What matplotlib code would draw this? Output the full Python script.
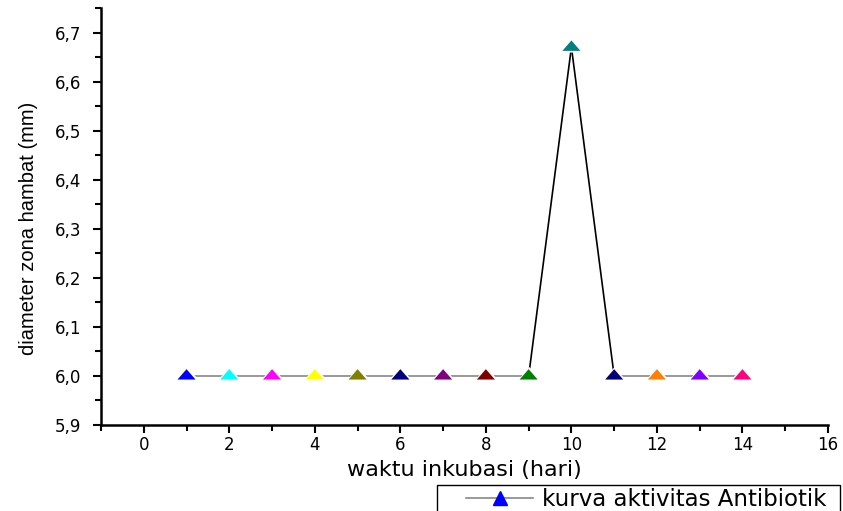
import numpy as np
import matplotlib.pyplot as plt
from matplotlib.lines import Line2D
from matplotlib.patches import Rectangle
from matplotlib.ticker import MultipleLocator

plt.rcParams['font.family'] = ['DejaVu Sans']

hari = [1, 2, 3, 4, 5, 6, 7, 8, 9, 10, 11, 12, 13, 14]
diameter = [6.0, 6.0, 6.0, 6.0, 6.0, 6.0, 6.0, 6.0, 6.0, 6.67, 6.0, 6.0, 6.0, 6.0]
warna = ['#0000ff', '#00ffff', '#ff00ff', '#ffff00', '#808000', '#000080', '#800080',
         '#800000', '#008000', '#008080', '#000080', '#ff8000', '#8000ff', '#ff0080']

# segitiga pipih ala Origin
segitiga = [(-1, -0.4), (1, -0.4), (0, 0.75), (-1, -0.4)]

W, H = 843, 511
fig = plt.figure(figsize=(W / 100, H / 100), dpi=100)
ax = fig.add_axes([101 / W, 86 / H, 727 / W, 417 / H])

# garis datar tampak abu-abu, garis naik-turun hitam
for i in range(len(hari) - 1):
    c = '#888888' if diameter[i] == diameter[i + 1] else 'black'
    ax.plot(hari[i:i + 2], diameter[i:i + 2], color=c, lw=1.2, zorder=1)

ax.scatter(hari, diameter, marker=segitiga, s=330, c='white', zorder=2, linewidths=0)
ax.scatter(hari, diameter, marker=segitiga, s=170, c=warna, zorder=3, linewidths=0)

ax.set_xlim(-1, 16)
ax.set_ylim(5.9, 6.75)
ax.xaxis.set_major_locator(MultipleLocator(2))
ax.xaxis.set_minor_locator(MultipleLocator(1))
ax.yaxis.set_major_locator(MultipleLocator(0.1))
ax.yaxis.set_minor_locator(MultipleLocator(0.05))
ax.yaxis.set_major_formatter(plt.FuncFormatter(lambda v, p: f'{v:.1f}'.replace('.', ',')))
ax.xaxis.set_major_formatter(plt.FuncFormatter(lambda v, p: f'{v:.0f}'))

for s in ['top', 'right']:
    ax.spines[s].set_visible(False)
for s in ['left', 'bottom']:
    ax.spines[s].set_linewidth(1.8)
ax.tick_params(which='major', direction='out', length=6, width=1.5, labelsize=12)
ax.tick_params(axis='y', which='major', pad=8)
ax.tick_params(axis='x', which='major', pad=2)
ax.tick_params(which='minor', direction='out', length=4, width=1.5)

ax.set_xlabel('waktu inkubasi (hari)', fontsize=16, labelpad=4)
ax.set_ylabel('diameter zona hambat (mm)', fontsize=14.5, family=['Liberation Sans'])
ax.yaxis.set_label_coords(-0.087, 0.472)

# legenda dengan bingkai terpisah
h = Line2D([0], [0], color='#888888', lw=1.2, marker='^', markersize=10,
           markerfacecolor='#0000ff', markeredgecolor='#0000ff')
fig.legend([h], ['kurva aktivitas Antibiotik'], loc='lower left',
           bbox_to_anchor=(464 / W, -0.004), fontsize=16.5, frameon=False,
           handlelength=2.9, handletextpad=0.4, borderpad=0.1, borderaxespad=0)
fig.patches.append(Rectangle((437 / W, -0.01), 403 / W, 26 / H + 0.01,
                             transform=fig.transFigure, fill=False,
                             edgecolor='black', lw=1))

fig.savefig('out.png', dpi=100)
